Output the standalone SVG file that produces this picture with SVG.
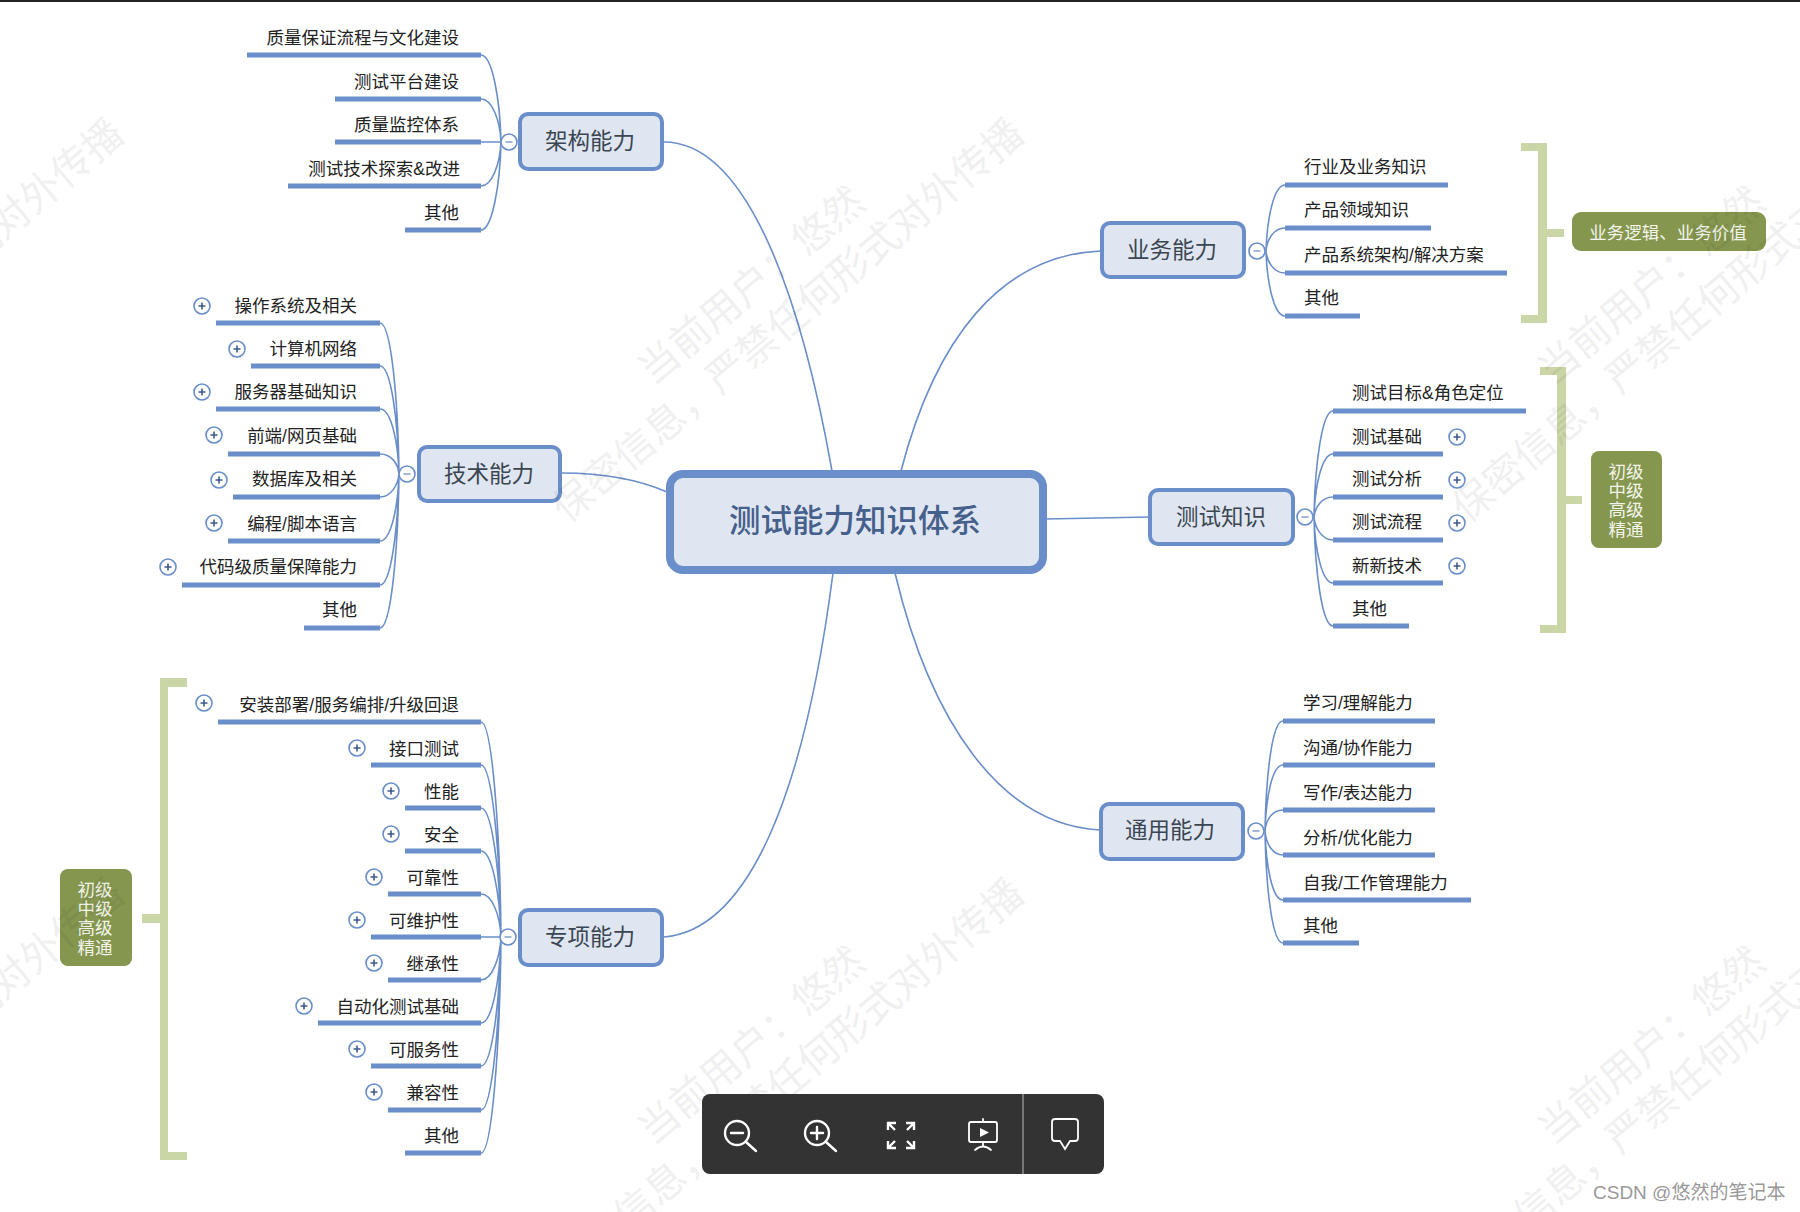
<svg xmlns="http://www.w3.org/2000/svg" width="1800" height="1212" viewBox="0 0 1800 1212">
<style>
text{font-family:"Liberation Sans","Noto Sans CJK SC",sans-serif}
.t{font-size:17.5px;fill:#222}
.r{text-anchor:end}
.bar{stroke:#6a8ec9;stroke-width:5;fill:none}
.c{stroke:#6a8ec9;stroke-width:1.6;fill:none}
.box{fill:#dfe6f1;stroke:#6a8ec9;stroke-width:4}
.lb{font-size:22.5px;fill:#3b4652;text-anchor:middle}
.br{fill:#cbd6a6}
.bd{fill:#85964f}
.bt{font-size:17.5px;fill:#f3f5ea;text-anchor:middle}
.ti{stroke:#fff;stroke-width:2.4;fill:none;stroke-linecap:round}
.wm{font-size:40px;fill:#000;opacity:.055}
</style>
<defs>
<g id="p"><circle r="8" fill="#fff" stroke="#6a8ec9" stroke-width="1.6"/><path d="M-3.5 0H3.5M0-3.5V3.5" stroke="#3d5a8c" stroke-width="1.6"/></g>
<g id="m"><circle r="8" fill="#fff" stroke="#6a8ec9" stroke-width="1.6"/><path d="M-3.5 0H3.5" stroke="#8ea6cf" stroke-width="1.6"/></g>
<g id="w">
<text class="wm" transform="translate(653 386) rotate(-40)">当前用户：悠然</text>
<text class="wm" transform="translate(567 524) rotate(-40)">保密信息，严禁任何形式对外传播</text>
</g>
</defs>
<rect width="1800" height="1212" fill="#fff"/>
<rect width="1800" height="2" fill="#222"/>

<g id="connectors">
<path class="c" d="M664 142C745 142 800 290 832 471"/>
<path class="c" d="M1101 251C1000 255 935 340 901 471"/>
<path class="c" d="M1149 517L1046 519"/>
<path class="c" d="M1100 830C1000 825 930 720 895 573"/>
<path class="c" d="M664 937C750 930 805 790 833 573"/>
<path class="c" d="M562 473C600 473 635 478 667 492"/>
<path class="c" d="M481 55C492 55 500 98 501 142M481 99C492 99 500 120 501 142M481 142H501M481 186C492 186 500 164 501 142M481 230C492 230 500 186 501 142"/>
<path class="c" d="M380 323C391 323 398 398 399 474M380 366C391 366 398 420 399 474M380 409C391 409 398 441 399 474M380 454C391 454 398 463 399 474M380 497C391 497 398 485 399 474M380 541C391 541 398 507 399 474M380 585C391 585 398 529 399 474M380 628C391 628 398 551 399 474"/>
<path class="c" d="M481 722C492 722 500 829 501 937M481 765C492 765 500 851 501 937M481 808C492 808 500 872 501 937M481 851C492 851 500 894 501 937M481 894C492 894 500 915 501 937M481 937H501M481 980C492 980 500 958 501 937M481 1023C492 1023 500 980 501 937M481 1066C492 1066 500 1001 501 937M481 1110C492 1110 500 1023 501 937M481 1153C492 1153 500 1045 501 937"/>
<path class="c" d="M1285 185C1274 185 1267 218 1266 251M1285 228C1274 228 1267 239 1266 251M1285 273C1274 273 1267 262 1266 251M1285 316C1274 316 1267 283 1266 251"/>
<path class="c" d="M1333 411C1322 411 1315 464 1314 517M1333 454C1322 454 1315 485 1314 517M1333 497C1322 497 1315 507 1314 517M1333 540C1322 540 1315 528 1314 517M1333 583C1322 583 1315 550 1314 517M1333 626C1322 626 1315 571 1314 517"/>
<path class="c" d="M1283 721C1272 721 1266 776 1265 831M1283 765C1272 765 1266 798 1265 831M1283 810C1272 810 1266 820 1265 831M1283 855C1272 855 1266 843 1265 831M1283 900C1272 900 1266 865 1265 831M1283 943C1272 943 1266 887 1265 831"/>
</g>

<g id="center"><rect x="670" y="474" width="373" height="96" rx="13" fill="#dfe6f1" stroke="#6a8ec9" stroke-width="8"/><text x="855" y="532" font-size="31.5" font-weight="500" fill="#46608c" text-anchor="middle">测试能力知识体系</text></g>

<g id="arch"><rect class="box" x="520" y="114" width="142" height="55" rx="8"/><text class="lb" x="590" y="149">架构能力</text><use href="#m" x="509" y="142"/></g>
<g id="a1"><path class="bar" d="M247 55H481"/><text class="t r" x="459" y="44">质量保证流程与文化建设</text></g>
<g id="a2"><path class="bar" d="M335 99H481"/><text class="t r" x="459" y="88">测试平台建设</text></g>
<g id="a3"><path class="bar" d="M335 142H481"/><text class="t r" x="459" y="131">质量监控体系</text></g>
<g id="a4"><path class="bar" d="M288 186H481"/><text class="t r" x="460" y="175">测试技术探索&amp;改进</text></g>
<g id="a5"><path class="bar" d="M405 230H481"/><text class="t r" x="459" y="219">其他</text></g>

<g id="tech"><rect class="box" x="419" y="447" width="141" height="54" rx="8"/><text class="lb" x="489" y="482">技术能力</text><use href="#m" x="407" y="474"/></g>
<g id="b1"><path class="bar" d="M216 323H380"/><text class="t r" x="357" y="312">操作系统及相关</text><use href="#p" x="202" y="306"/></g>
<g id="b2"><path class="bar" d="M251 366H380"/><text class="t r" x="357" y="355">计算机网络</text><use href="#p" x="237" y="349"/></g>
<g id="b3"><path class="bar" d="M216 409H380"/><text class="t r" x="357" y="398">服务器基础知识</text><use href="#p" x="202" y="392"/></g>
<g id="b4"><path class="bar" d="M228 454H380"/><text class="t r" x="357" y="442">前端/网页基础</text><use href="#p" x="214" y="435"/></g>
<g id="b5"><path class="bar" d="M233 497H380"/><text class="t r" x="357" y="485">数据库及相关</text><use href="#p" x="219" y="480"/></g>
<g id="b6"><path class="bar" d="M228 541H380"/><text class="t r" x="357" y="530">编程/脚本语言</text><use href="#p" x="214" y="523"/></g>
<g id="b7"><path class="bar" d="M182 585H380"/><text class="t r" x="357" y="573">代码级质量保障能力</text><use href="#p" x="168" y="567"/></g>
<g id="b8"><path class="bar" d="M304 628H380"/><text class="t r" x="357" y="616">其他</text></g>

<g id="spec"><rect class="box" x="520" y="910" width="142" height="55" rx="8"/><text class="lb" x="590" y="945">专项能力</text><use href="#m" x="508" y="937"/></g>
<g id="c1"><path class="bar" d="M218 722H481"/><text class="t r" x="459" y="711">安装部署/服务编排/升级回退</text><use href="#p" x="204" y="703"/></g>
<g id="c2"><path class="bar" d="M371 765H481"/><text class="t r" x="459" y="755">接口测试</text><use href="#p" x="357" y="748"/></g>
<g id="c3"><path class="bar" d="M405 808H481"/><text class="t r" x="459" y="798">性能</text><use href="#p" x="391" y="791"/></g>
<g id="c4"><path class="bar" d="M405 851H481"/><text class="t r" x="459" y="841">安全</text><use href="#p" x="391" y="834"/></g>
<g id="c5"><path class="bar" d="M388 894H481"/><text class="t r" x="459" y="884">可靠性</text><use href="#p" x="374" y="877"/></g>
<g id="c6"><path class="bar" d="M371 937H481"/><text class="t r" x="459" y="927">可维护性</text><use href="#p" x="357" y="920"/></g>
<g id="c7"><path class="bar" d="M388 980H481"/><text class="t r" x="459" y="970">继承性</text><use href="#p" x="374" y="963"/></g>
<g id="c8"><path class="bar" d="M318 1023H481"/><text class="t r" x="459" y="1013">自动化测试基础</text><use href="#p" x="304" y="1006"/></g>
<g id="c9"><path class="bar" d="M371 1066H481"/><text class="t r" x="459" y="1056">可服务性</text><use href="#p" x="357" y="1049"/></g>
<g id="c10"><path class="bar" d="M388 1110H481"/><text class="t r" x="459" y="1099">兼容性</text><use href="#p" x="374" y="1092"/></g>
<g id="c11"><path class="bar" d="M405 1153H481"/><text class="t r" x="459" y="1142">其他</text></g>
<g id="spec-scope"><path class="br" d="M160 678H187V687H168V1152H187V1160H160V923H142V914H160Z"/><rect class="bd" x="60" y="869" width="72" height="97" rx="8"/><text class="bt" y="896"><tspan x="95">初级</tspan><tspan x="95" dy="19">中级</tspan><tspan x="95" dy="19">高级</tspan><tspan x="95" dy="19.5">精通</tspan></text></g>

<g id="biz"><rect class="box" x="1102" y="223" width="142" height="54" rx="8"/><text class="lb" x="1172" y="258">业务能力</text><use href="#m" x="1257" y="251"/></g>
<g id="d1"><path class="bar" d="M1285 185H1448"/><text class="t" x="1304" y="173">行业及业务知识</text></g>
<g id="d2"><path class="bar" d="M1285 228H1431"/><text class="t" x="1304" y="216">产品领域知识</text></g>
<g id="d3"><path class="bar" d="M1285 273H1507"/><text class="t" x="1304" y="261">产品系统架构/解决方案</text></g>
<g id="d4"><path class="bar" d="M1285 316H1360"/><text class="t" x="1304" y="304">其他</text></g>
<g id="biz-scope"><path class="br" d="M1521 143H1547V229H1564V237H1547V323H1521V315H1538V151H1521Z"/><rect class="bd" x="1572" y="212" width="194" height="39" rx="9"/><text class="bt" x="1668" y="239">业务逻辑、业务价值</text></g>

<g id="test"><rect class="box" x="1150" y="490" width="143" height="54" rx="8"/><text class="lb" x="1221" y="525">测试知识</text><use href="#m" x="1305" y="517"/></g>
<g id="e1"><path class="bar" d="M1333 411H1526"/><text class="t" x="1352" y="399">测试目标&amp;角色定位</text></g>
<g id="e2"><path class="bar" d="M1333 454H1443"/><text class="t" x="1352" y="443">测试基础</text><use href="#p" x="1457" y="437"/></g>
<g id="e3"><path class="bar" d="M1333 497H1443"/><text class="t" x="1352" y="485">测试分析</text><use href="#p" x="1457" y="480"/></g>
<g id="e4"><path class="bar" d="M1333 540H1443"/><text class="t" x="1352" y="528">测试流程</text><use href="#p" x="1457" y="523"/></g>
<g id="e5"><path class="bar" d="M1333 583H1443"/><text class="t" x="1352" y="572">新新技术</text><use href="#p" x="1457" y="566"/></g>
<g id="e6"><path class="bar" d="M1333 626H1409"/><text class="t" x="1352" y="615">其他</text></g>
<g id="test-scope"><path class="br" d="M1540 367H1566V496H1582V504H1566V633H1540V625H1557V375H1540Z"/><rect class="bd" x="1591" y="451" width="71" height="97" rx="8"/><text class="bt" y="478"><tspan x="1626">初级</tspan><tspan x="1626" dy="19">中级</tspan><tspan x="1626" dy="19">高级</tspan><tspan x="1626" dy="19.5">精通</tspan></text></g>

<g id="gen"><rect class="box" x="1101" y="804" width="142" height="55" rx="8"/><text class="lb" x="1170" y="838">通用能力</text><use href="#m" x="1256" y="831"/></g>
<g id="f1"><path class="bar" d="M1283 721H1435"/><text class="t" x="1303" y="709">学习/理解能力</text></g>
<g id="f2"><path class="bar" d="M1283 765H1435"/><text class="t" x="1303" y="754">沟通/协作能力</text></g>
<g id="f3"><path class="bar" d="M1283 810H1435"/><text class="t" x="1303" y="799">写作/表达能力</text></g>
<g id="f4"><path class="bar" d="M1283 855H1435"/><text class="t" x="1303" y="844">分析/优化能力</text></g>
<g id="f5"><path class="bar" d="M1283 900H1471"/><text class="t" x="1303" y="889">自我/工作管理能力</text></g>
<g id="f6"><path class="bar" d="M1283 943H1359"/><text class="t" x="1303" y="932">其他</text></g>

<g id="watermark">
<use href="#w"/><use href="#w" x="-900"/><use href="#w" x="900"/>
<use href="#w" y="760"/><use href="#w" x="-900" y="760"/><use href="#w" x="900" y="760"/>
</g>

<g id="toolbar">
<rect x="702" y="1094" width="402" height="80" rx="8" fill="#333"/>
<rect x="1022" y="1094" width="2" height="80" fill="#777"/>
<circle class="ti" cx="737" cy="1133" r="12"/><path class="ti" d="M746 1142L756 1151M731 1133H743"/>
<circle class="ti" cx="817" cy="1133" r="12"/><path class="ti" d="M826 1142L836 1151M811 1133H823M817 1127V1139"/>
<path class="ti" style="stroke-linecap:butt" d="M888 1130V1123H896M888 1123L895 1130M914 1130V1123H906M914 1123L907 1130M888 1141V1148H896M888 1148L895 1141M914 1141V1148H906M914 1148L907 1141"/>
<rect class="ti" style="stroke-width:1.8" x="969" y="1122" width="28" height="20" rx="2"/><path class="ti" style="stroke-width:1.8" d="M983 1119V1122M983 1142V1146M975 1150Q983 1143 991 1150"/><path d="M980 1128L989 1132.5L980 1137Z" fill="#fff"/>
<path class="ti" style="stroke-width:1.8" d="M1055 1119H1075a3 3 0 0 1 3 3V1138a3 3 0 0 1 -3 3H1070L1065 1149L1060 1141H1055a3 3 0 0 1 -3 -3V1122a3 3 0 0 1 3 -3Z"/>
</g>

<text x="1593" y="1199" font-size="19" fill="#999">CSDN @悠然的笔记本</text>
</svg>
